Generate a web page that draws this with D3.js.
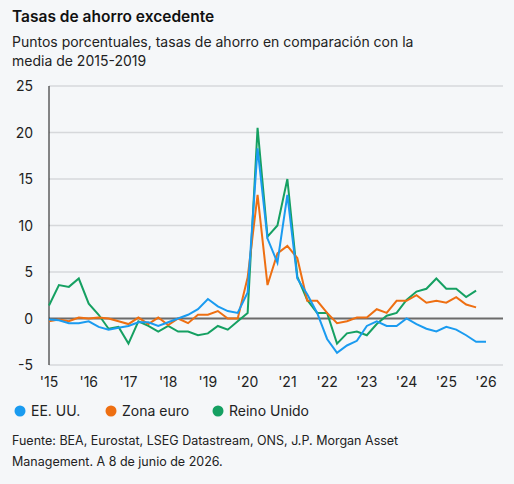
<!DOCTYPE html>
<html><head><meta charset="utf-8">
<script src="https://cdn.jsdelivr.net/npm/d3@7"></script>
<style>
body{margin:0;background:#f5f7f9;font-family:Inter,"Noto Sans",sans-serif;}
</style></head>
<body><svg id="chart" width="514" height="484"></svg>
<script>
'use strict';
// quarterly, starting 2015 Q1
const startYear = 2015;
const yearTicks = [2015,2016,2017,2018,2019,2020,2021,2022,2023,2024,2025,2026];
const yTicks = [-5,0,5,10,15,20,25];
const usa = [-0.1,-0.2,-0.5,-0.5,-0.3,-0.9,-1.2,-1.0,-0.8,-0.4,-0.4,-0.8,-0.4,0,0.4,1.0,2.1,1.3,0.8,0.6,2.8,18.3,8.6,6.0,13.3,4.3,2.6,0.6,-2.2,-3.7,-2.9,-2.4,-0.8,-0.3,-0.8,-0.8,0,-0.6,-1.1,-1.4,-0.9,-1.2,-1.8,-2.5,-2.5];
const euro = [-0.3,-0.1,-0.3,0.1,0,0.1,0,-0.3,-0.6,0.1,-0.6,0.1,-0.7,0,-0.5,0.4,0.4,0.8,0,0,4.4,13.3,3.6,7.0,7.8,6.5,1.9,1.9,0.6,-0.5,-0.3,0.1,0.1,1.0,0.6,1.9,1.9,2.5,1.7,1.9,1.7,2.3,1.5,1.2];
const uk = [1.4,3.6,3.4,4.3,1.6,0.4,-1.1,-0.9,-2.7,-0.3,-0.8,-1.4,-0.8,-1.4,-1.4,-1.8,-1.6,-0.8,-1.2,-0.3,0.6,20.5,8.8,10.0,15.0,4.5,2.0,0.6,0.6,-2.7,-1.6,-1.4,-1.8,-0.6,0.3,0.6,2.0,2.9,3.2,4.3,3.2,3.2,2.3,3.0];
const series = [
  {name:'EE. UU.', values:usa, color:'#1a9bf0'},
  {name:'Zona euro', values:euro, color:'#ee6f12'},
  {name:'Reino Unido', values:uk, color:'#15a062'}
];

const svg = d3.select('#chart');
const m = {left:49, right:503, top:86, bottom:365};
const x = d3.scaleLinear().domain([2015, 2026]).range([m.left, 486]);
const y = d3.scaleLinear().domain([-5, 25]).range([m.bottom, m.top]);

svg.append('text').attr('x',12).attr('y',22).attr('font-size',15.5).attr('font-weight',600).attr('fill','#111').text('Tasas de ahorro excedente');
svg.append('text').attr('x',12).attr('y',47).attr('font-size',14).attr('fill','#222').text('Puntos porcentuales, tasas de ahorro en comparación con la');
svg.append('text').attr('x',12).attr('y',66).attr('font-size',14).attr('fill','#222').text('media de 2015-2019');

// grid
svg.append('g').selectAll('line').data(yTicks).join('line')
  .attr('x1',m.left).attr('x2',m.right).attr('y1',d=>y(d)).attr('y2',d=>y(d))
  .attr('stroke',d=>d===0?'#6b6b6b':'#d6d8db').attr('stroke-width',d=>d===0?2:1.3);
svg.append('g').selectAll('text').data(yTicks).join('text')
  .attr('x',33).attr('y',d=>y(d)+5).attr('text-anchor','end').attr('font-size',14).attr('fill','#222').text(d=>d);
svg.append('line').attr('x1',m.left).attr('x2',m.left).attr('y1',m.top).attr('y2',m.bottom).attr('stroke','#111').attr('stroke-width',1);
svg.append('g').selectAll('text').data(yearTicks).join('text')
  .attr('x',d=>x(d)).attr('y',387).attr('text-anchor','middle').attr('font-size',14).attr('fill','#222')
  .text(d=>"'"+String(d).slice(2));

const line = d3.line().x((d,i)=>x(startYear + i/4)).y(d=>y(d));
svg.append('g').selectAll('path').data(series.slice().reverse()).join('path')
  .attr('d',d=>line(d.values)).attr('fill','none').attr('stroke',d=>d.color).attr('stroke-width',2);

// legend
const lx = [14, 105, 212];
const lg = svg.append('g').selectAll('g').data(series).join('g').attr('transform',(d,i)=>`translate(${lx[i]},411)`);
lg.append('circle').attr('cx',6).attr('cy',0).attr('r',5.5).attr('fill',d=>d.color);
lg.append('text').attr('x',17).attr('y',5).attr('font-size',14).attr('fill','#222').text(d=>d.name);

svg.append('text').attr('x',12).attr('y',445).attr('font-size',12.5).attr('fill','#222').text('Fuente: BEA, Eurostat, LSEG Datastream, ONS, J.P. Morgan Asset');
svg.append('text').attr('x',12).attr('y',466).attr('font-size',12.5).attr('fill','#222').text('Management. A 8 de junio de 2026.');
</script></body></html>
